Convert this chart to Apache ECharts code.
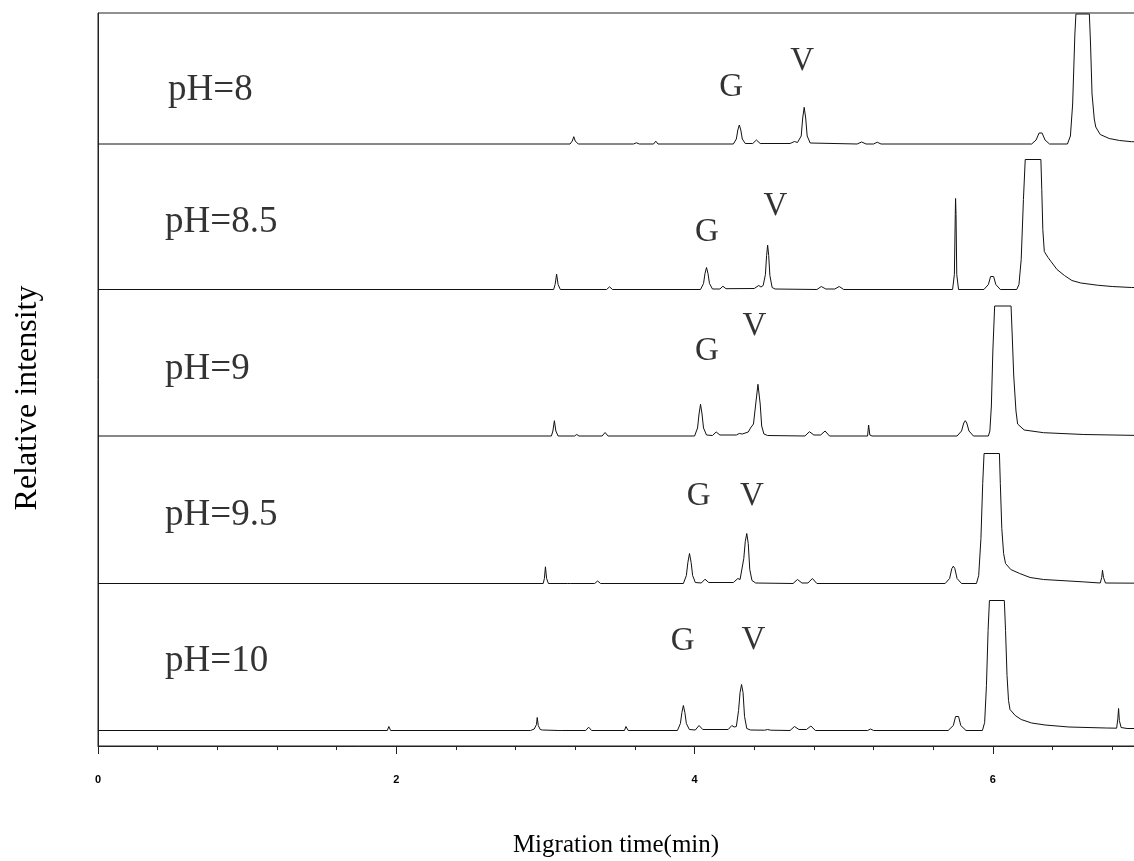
<!DOCTYPE html>
<html>
<head>
<meta charset="utf-8">
<script src="https://cdn.jsdelivr.net/npm/echarts@6/dist/echarts.min.js"></script>
<style>
  html, body { margin: 0; padding: 0; background: #ffffff; overflow: hidden; }
  /* the frame runs past the right edge of the page, so its right side is cut off */
  #chart { width: 1145px; height: 861px; }
</style>
</head>
<body>
<div id="chart"></div>
<script>
// Electropherograms recorded at five buffer pH values, stacked one above the other.
// Each trace: [migration time (min), signal above its own baseline]; the plateau at 130 is detector saturation.
const traceNames = ['pH=8', 'pH=8.5', 'pH=9', 'pH=9.5', 'pH=10'];
const baselineOffsets = [602, 456.5, 310, 162.5, 15.5];

const trace_pH8 = [
  [0,0],[3.165,0],[3.18,3],[3.19,7.3],[3.2,3],[3.22,0],
  [3.59,0],[3.61,1.2],[3.63,0],
  [3.725,0],[3.74,2.8],[3.755,0],
  [4.26,0],[4.28,5],[4.29,14],[4.30,19],[4.31,14],[4.32,5],[4.34,0.5],
  [4.39,0.5],[4.415,4],[4.44,0.5],
  [4.64,0.5],[4.67,2.5],[4.69,1.5],
  [4.70,1.5],[4.715,8],[4.725,26],[4.735,36.7],[4.745,26],[4.755,8],[4.775,1],
  [5.09,0],[5.12,2],[5.15,0],
  [5.20,0],[5.225,1.8],[5.25,0],
  [6.26,0],[6.29,4],[6.31,11],[6.32,13],[6.33,11],[6.35,4],[6.38,0],
  [6.50,0],[6.52,8],[6.535,40],[6.55,110],[6.557,130],[6.647,130],[6.655,100],[6.665,50],
  [6.68,25],[6.69,17],[6.72,9.5],[6.78,5.5],[6.85,3.5],[6.93,2.3],[7,2]
];

const trace_pH85 = [
  [0,0],[3.055,0],[3.065,5],[3.075,15.3],[3.085,5],[3.10,0],
  [3.41,0],[3.43,2.7],[3.45,0],
  [4.04,0],[4.06,6],[4.07,16],[4.08,22],[4.09,16],[4.10,6],[4.12,0.5],
  [4.17,0.5],[4.19,3.3],[4.21,0.8],
  [4.40,1],[4.43,4],[4.445,2.5],
  [4.46,4],[4.475,15],[4.483,34],[4.49,44.3],[4.497,34],[4.505,14],[4.52,2],[4.54,0.5],
  [4.82,0],[4.85,3],[4.88,0.5],
  [4.94,0.5],[4.97,3],[5.0,0],
  [5.73,0],[5.742,15],[5.748,75],[5.75,91],[5.753,75],[5.758,15],[5.77,0],
  [5.94,0],[5.97,5],[5.985,13],[5.995,15],[6.005,13],[6.02,5],[6.05,0],
  [6.16,0],[6.175,5],[6.19,30],[6.205,90],[6.217,130],[6.322,130],[6.328,100],[6.335,60],
  [6.345,38],[6.37,32],[6.39,28],[6.43,20],[6.48,14],[6.53,9],[6.59,6.5],[6.70,4.3],
  [6.80,3],[6.93,2],[7,2]
];

const trace_pH9 = [
  [0,0],[3.04,0],[3.05,5],[3.06,15.3],[3.07,5],[3.085,0],
  [3.195,0],[3.21,1.5],[3.225,0],
  [3.38,0],[3.40,3.5],[3.42,0],
  [4.0,0],[4.02,8],[4.03,22],[4.04,31.7],[4.05,22],[4.06,8],[4.08,1],
  [4.12,0.5],[4.145,4],[4.17,1],
  [4.28,1],[4.30,2.5],[4.32,2],
  [4.36,4],[4.375,8],[4.395,12],[4.41,32],[4.425,51.7],[4.44,32],[4.45,10],[4.465,2],[4.49,0.5],
  [4.74,0],[4.77,4.3],[4.80,1],
  [4.845,1],[4.875,5],[4.905,0],
  [5.16,0],[5.167,11],[5.175,1],[5.19,0],
  [5.76,0],[5.79,5],[5.805,13],[5.815,15.3],[5.825,13],[5.84,5],[5.87,0],
  [5.97,0],[5.98,5],[5.99,30],[6.0,85],[6.012,130],[6.122,130],[6.13,100],[6.14,60],
  [6.155,25],[6.166,12],[6.21,6],[6.34,3.3],[6.61,1.5],[7,0.5]
];

const trace_pH95 = [
  [0,0],[2.985,0],[2.993,5],[3.0,16.7],[3.008,5],[3.02,0],
  [3.15,0],[3.16,1],[3.17,0],
  [3.33,0],[3.35,2.5],[3.37,0],
  [3.925,0],[3.945,8],[3.955,21],[3.966,30],[3.977,21],[3.987,8],[4.005,1],
  [4.045,0.5],[4.07,4.3],[4.095,1],
  [4.26,1],[4.29,5],[4.305,4],
  [4.315,6],[4.33,25],[4.34,42],[4.35,50],[4.36,40],[4.37,14],[4.385,3],[4.41,0.5],
  [4.66,0],[4.69,4],[4.72,0.5],
  [4.76,0.5],[4.79,5],[4.82,0],
  [5.68,0],[5.71,5],[5.725,15],[5.735,17.3],[5.745,15],[5.76,5],[5.79,0],
  [5.89,0],[5.905,8],[5.92,45],[5.932,100],[5.941,130],[6.044,130],[6.05,100],[6.06,55],
  [6.072,30],[6.085,20],[6.12,14],[6.18,10],[6.25,6],[6.34,4],[6.61,1.6],
  [6.72,0.5],[6.73,6],[6.735,13.3],[6.742,6],[6.755,0.5],[7,0.3]
];

const trace_pH10 = [
  [0,0],[1.94,0],[1.95,4],[1.962,0],
  [2.90,0],[2.925,1.5],[2.935,2],[2.94,6],[2.945,13],[2.952,5],[2.965,1],[2.98,0.5],
  [3.09,0],[3.10,1],[3.11,0],
  [3.27,0],[3.29,3.3],[3.31,0],
  [3.53,0],[3.54,4],[3.555,0],
  [3.885,0],[3.905,7],[3.915,18],[3.925,25],[3.935,18],[3.945,7],[3.965,1],
  [4.005,0.5],[4.03,5],[4.055,1],
  [4.225,1],[4.25,5],[4.265,3.5],
  [4.28,4],[4.295,20],[4.305,38],[4.315,46],[4.325,38],[4.335,14],[4.35,2],[4.375,0.5],
  [4.47,0.3],[4.49,1],[4.51,0.3],
  [4.64,0],[4.67,4],[4.70,1],
  [4.75,1],[4.78,4.5],[4.81,0],
  [5.16,0],[5.18,1.5],[5.20,0],
  [5.70,0],[5.735,5],[5.75,14],[5.76,16],[5.77,14],[5.785,5],[5.82,0],
  [5.93,0],[5.945,8],[5.957,45],[5.968,100],[5.977,130],[6.077,130],[6.085,100],[6.095,55],
  [6.105,30],[6.115,21],[6.15,15],[6.19,11],[6.26,7.5],[6.35,5.5],[6.51,3.5],[6.76,2.5],
  [6.83,2.3],[6.838,12],[6.843,22],[6.848,10],[6.86,3],[6.9,2],[7,2]
];

const traces = [trace_pH8, trace_pH85, trace_pH9, trace_pH95, trace_pH10];

// Trace captions: [time, stacked intensity]
const captionPositions = [[0.47, 656], [0.45, 524], [0.45, 377], [0.45, 231], [0.45, 85]];

// Peak identifications: [text, time, stacked intensity]
const peakLabels = [
  ['G', 4.245, 658.7], ['V', 4.722, 684.3],
  ['G', 4.082, 513.3], ['V', 4.542, 539.3],
  ['G', 4.082, 394.3], ['V', 4.401, 420],
  ['G', 4.028, 249.3], ['V', 4.385, 249.3],
  ['G', 3.920, 104.3], ['V', 4.394, 106]
];

const xTickLabels = ['0', '2', '4', '6'];
const xMin = 0, xMax = 7, xMajor = 2;

const serif = '"Liberation Serif", "Times New Roman", serif';
const ink = '#111111';

const lineSeries = traces.map((tr, i) => ({
  type: 'line',
  name: traceNames[i],
  data: tr.map(p => [p[0], p[1] + baselineOffsets[i]]),
  showSymbol: false,
  symbol: 'none',
  smooth: false,
  clip: true,
  silent: true,
  lineStyle: { color: ink, width: 1 },
  z: 3
}));

const captionSeries = {
  type: 'scatter',
  silent: true,
  symbolSize: 0,
  data: captionPositions.map((p, i) => ({ value: p, name: traceNames[i] })),
  label: {
    show: true, position: 'right', distance: 0,
    formatter: p => p.name,
    fontFamily: serif, fontSize: 37, color: '#000'
  }
};

const peakSeries = {
  type: 'scatter',
  silent: true,
  symbolSize: 0,
  data: peakLabels.map(p => ({ value: [p[1], p[2]], name: p[0] })),
  label: {
    show: true, position: 'inside',
    formatter: p => p.name,
    fontFamily: serif, fontSize: 33, color: '#000'
  }
};

const chart = echarts.init(document.getElementById('chart'), null, { renderer: 'canvas' });
chart.setOption({
  animation: false,
  backgroundColor: '#ffffff',
  grid: {
    left: 98, right: 0.5, top: 13, bottom: 115,
    show: true, borderColor: '#222', borderWidth: 1, backgroundColor: 'transparent'
  },
  xAxis: {
    type: 'value', min: xMin, max: xMax, interval: xMajor,
    axisLine: { show: true, onZero: false, lineStyle: { color: '#222', width: 1 } },
    axisTick: { show: true, length: 8, lineStyle: { color: '#222' } },
    minorTick: { show: true, splitNumber: 5, length: 4, lineStyle: { color: '#222' } },
    splitLine: { show: false },
    minorSplitLine: { show: false },
    axisLabel: {
      margin: 28, fontSize: 11, fontWeight: 'bold', color: '#000',
      fontFamily: '"Liberation Sans", Arial, sans-serif',
      formatter: v => xTickLabels[Math.round(v / xMajor)] ?? ''
    }
  },
  yAxis: {
    type: 'value', min: 0, max: 733,
    axisLine: { show: true, lineStyle: { color: '#222', width: 1 } },
    axisTick: { show: false },
    axisLabel: { show: false },
    splitLine: { show: false }
  },
  graphic: [
    {
      type: 'text', x: 616, y: 845,
      style: {
        text: 'Migration time(min)',
        align: 'center', verticalAlign: 'middle',
        font: '25px ' + serif, fill: '#000'
      }
    },
    {
      type: 'text', x: 28, y: 398, rotation: Math.PI / 2,
      style: {
        text: 'Relative intensity',
        align: 'center', verticalAlign: 'middle',
        font: '32px ' + serif, fill: '#000'
      }
    }
  ],
  series: [...lineSeries, captionSeries, peakSeries]
});
</script>
</body>
</html>
